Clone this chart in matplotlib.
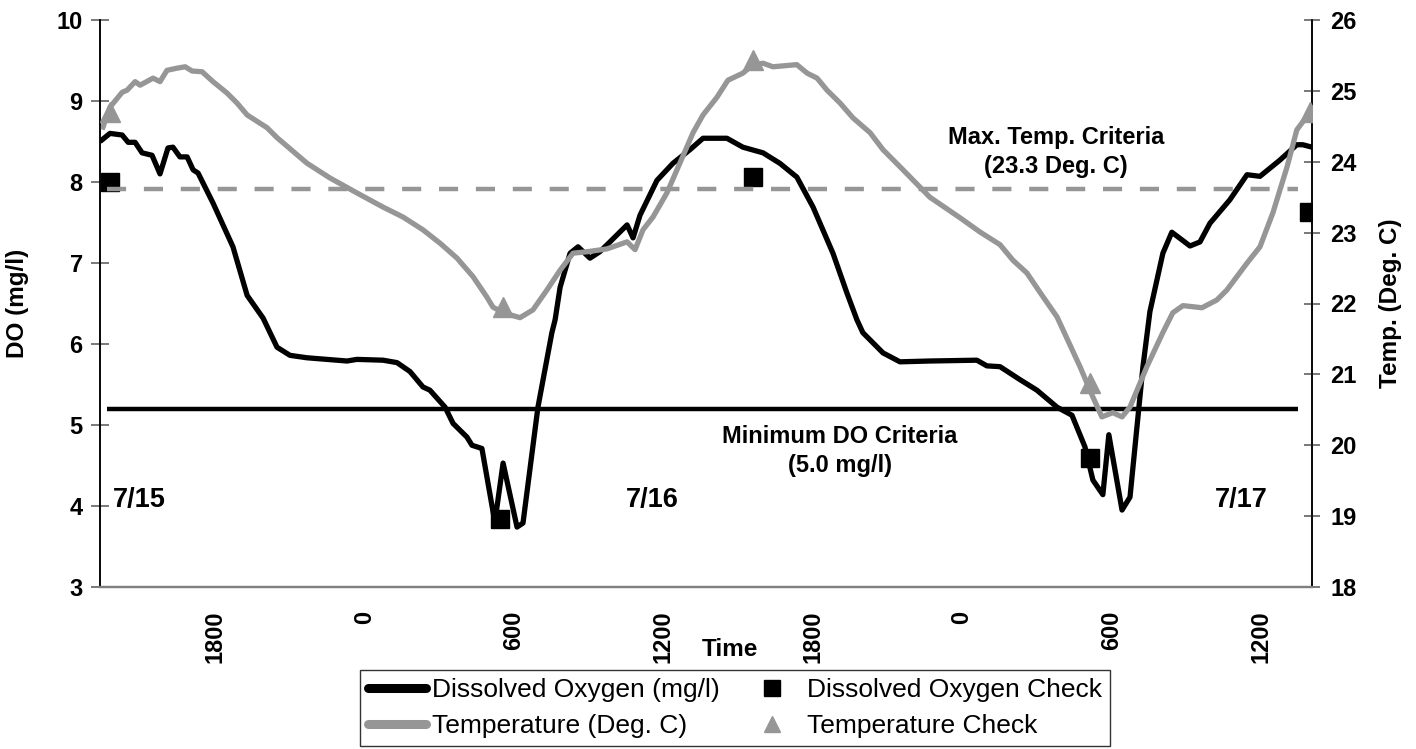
import matplotlib
matplotlib.use('Agg')
import matplotlib.pyplot as plt
from matplotlib.lines import Line2D

plt.rcParams['font.family'] = ['Liberation Sans', 'DejaVu Sans']

# ---- data (hours from 7/15 00:00) ----
do_hours = [13.46, 13.78, 14.27, 14.51, 14.79, 15.07, 15.47, 15.79, 16.11, 16.31,
            16.59, 16.88, 17.12, 17.32, 17.92, 18.72, 19.29, 19.93, 20.21, 20.49,
            21.01, 21.69, 23.30, 23.70, 24.75, 25.31, 25.83, 26.35, 26.63, 27.24,
            27.56, 28.12, 28.32, 28.72, 29.24, 29.57, 30.13, 30.37, 30.97, 31.53,
            31.66, 31.86, 32.26, 32.58, 33.06, 33.46, 33.86, 34.55, 34.79, 35.07,
            35.75, 36.39, 37.08, 37.60, 38.56, 39.20, 40.01, 40.69, 41.37, 42.02,
            42.82, 43.38, 43.78, 44.02, 44.83, 45.51, 46.71, 48.60, 49.00, 49.53,
            50.33, 51.01, 51.82, 52.42, 52.94, 53.26, 53.66, 53.90, 54.43, 54.75,
            55.27, 55.55, 56.07, 56.43, 57.16, 57.56, 57.96, 58.76, 59.45, 59.97,
            60.77, 61.45, 61.69, 62.06]
do_vals = [8.52, 8.60, 8.58, 8.49, 8.49, 8.36, 8.33, 8.10, 8.42, 8.43,
           8.31, 8.31, 8.15, 8.11, 7.74, 7.20, 6.60, 6.32, 6.14, 5.96,
           5.86, 5.83, 5.79, 5.81, 5.80, 5.77, 5.66, 5.47, 5.43, 5.22,
           5.02, 4.85, 4.75, 4.71, 3.80, 4.53, 3.74, 3.79, 5.22, 6.14,
           6.30, 6.70, 7.12, 7.20, 7.06, 7.14, 7.26, 7.47, 7.31, 7.59,
           8.02, 8.23, 8.40, 8.54, 8.54, 8.43, 8.36, 8.23, 8.06, 7.69,
           7.12, 6.63, 6.30, 6.14, 5.89, 5.78, 5.79, 5.80, 5.73, 5.72,
           5.56, 5.43, 5.22, 5.12, 4.73, 4.32, 4.14, 4.88, 3.95, 4.11,
           5.72, 6.40, 7.12, 7.38, 7.21, 7.26, 7.49, 7.78, 8.09, 8.07,
           8.27, 8.46, 8.46, 8.43]

temp_hours = [13.50, 13.78, 14.27, 14.47, 14.79, 14.99, 15.51, 15.79, 16.07, 16.47,
              16.80, 17.08, 17.48, 17.92, 18.48, 18.88, 19.29, 20.09, 20.49, 21.69,
              22.62, 23.70, 24.75, 25.55, 26.35, 27.04, 27.72, 28.36, 28.92, 29.16,
              29.57, 30.25, 30.77, 31.33, 31.86, 32.38, 32.94, 33.74, 34.55, 34.87,
              35.19, 35.59, 36.15, 36.67, 37.20, 37.60, 38.16, 38.60, 39.20, 39.61,
              40.01, 40.41, 41.37, 41.78, 42.18, 42.58, 43.10, 43.62, 44.31, 44.83,
              45.51, 46.71, 47.92, 48.72, 49.53, 50.05, 50.61, 51.13, 51.82, 52.74,
              53.26, 53.62, 54.06, 54.43, 54.75, 55.43, 56.07, 56.47, 56.88, 57.64,
              58.24, 58.64, 59.45, 59.97, 60.49, 61.06, 61.45, 61.98]
temp_vals = [24.49, 24.77, 24.98, 25.01, 25.13, 25.08, 25.18, 25.13, 25.29, 25.32,
             25.34, 25.28, 25.27, 25.13, 24.97, 24.83, 24.66, 24.48, 24.34, 23.98,
             23.77, 23.56, 23.36, 23.22, 23.04, 22.85, 22.64, 22.38, 22.09, 21.95,
             21.87, 21.80, 21.91, 22.19, 22.47, 22.71, 22.73, 22.77, 22.87, 22.76,
             23.04, 23.22, 23.56, 23.98, 24.41, 24.66, 24.91, 25.15, 25.25, 25.37,
             25.39, 25.34, 25.37, 25.25, 25.18, 25.01, 24.83, 24.62, 24.41, 24.17,
             23.93, 23.50, 23.21, 23.01, 22.83, 22.61, 22.43, 22.16, 21.81, 21.11,
             20.68, 20.40, 20.46, 20.40, 20.54, 21.11, 21.59, 21.87, 21.97, 21.94,
             22.05, 22.19, 22.57, 22.80, 23.28, 23.93, 24.45, 24.70]

do_check_hours = [13.78, 29.45, 39.61, 53.14, 61.94]
do_check_vals = [8.00, 3.84, 8.06, 4.59, 7.63]
temp_check_hours = [13.78, 29.57, 39.61, 53.14, 61.98]
temp_check_vals = [24.70, 21.95, 25.44, 20.88, 24.70]

min_do_level = 5.2       # drawn level of the DO criteria line
max_temp_level = 23.62   # drawn level of the temperature criteria line
crit_span = [13.66, 61.49]

xtick_hours = [18, 24, 30, 36, 42, 48, 54, 60]
xtick_labels = ['1800', '0', '600', '1200', '1800', '0', '600', '1200']
date_labels = ['7/15', '7/16', '7/17']
date_hours = [13.9, 35.55, 59.24]

GRAY = '#969696'
W, H = 1416, 749

fig = plt.figure(figsize=(W / 100, H / 100), dpi=100)
ax = fig.add_axes([100 / W, 1 - 587 / H, 1212 / W, 567 / H])
ax2 = ax.twinx()

ax.plot(crit_span, [min_do_level] * 2, color='black', lw=3.2, solid_capstyle='butt')
ax2.plot(crit_span, [max_temp_level] * 2, color=GRAY, lw=3.2, dashes=(4.3, 4))
ax.plot(do_hours, do_vals, color='black', lw=3.8, solid_joinstyle='round')
ax.plot(do_check_hours, do_check_vals, 's', color='black', ms=13, zorder=5)
ax2.plot(temp_hours, temp_vals, color=GRAY, lw=3.8, solid_joinstyle='round')
ax2.plot(temp_check_hours, temp_check_vals, '^', color=GRAY, ms=15, zorder=5)

ax.set_xlim(13.38, 62.06)
ax.set_ylim(3, 10)
ax2.set_ylim(18, 26)
ax.set_yticks(range(3, 11))
ax2.set_yticks(range(18, 27))
ax.set_xticks(xtick_hours)
ax.set_xticklabels(xtick_labels, rotation=90, fontsize=17, fontweight='bold', va='top')
ax.tick_params(axis='x', length=0, pad=17)
ax.tick_params(axis='y', direction='inout', length=13, width=1.1, color='#555555',
               labelsize=17, pad=6)
ax2.tick_params(axis='y', direction='inout', length=12, width=1.1, color='#555555',
                labelsize=17, pad=7)
for lab in ax.get_yticklabels() + ax2.get_yticklabels():
    lab.set_fontweight('bold')

for a in (ax, ax2):
    a.spines['top'].set_visible(False)
    a.spines['bottom'].set_color('#808080')
    a.spines['bottom'].set_linewidth(1.6)
    a.spines['left'].set_linewidth(1.1)
    a.spines['right'].set_linewidth(1.1)

for lab, h in zip(date_labels, date_hours):
    ax.text(h, 4.07, lab, fontsize=19.5, fontweight='bold',
            ha='left' if lab == '7/15' else 'center', va='center')

ax.text(43.1, 4.68, 'Minimum DO Criteria\n(5.0 mg/l)', fontsize=17, fontweight='bold',
        ha='center', va='center', linespacing=1.35)
ax.text(51.78, 8.37, 'Max. Temp. Criteria\n(23.3 Deg. C)', fontsize=17, fontweight='bold',
        ha='center', va='center', linespacing=1.35)

fig.text(18 / W, 1 - 303 / H, 'DO (mg/l)', rotation=90, fontsize=17.5, fontweight='bold',
         ha='center', va='center')
fig.text(1390 / W, 1 - 303 / H, 'Temp. (Deg. C)', rotation=90, fontsize=17.5,
         fontweight='bold', ha='center', va='center')
fig.text(730 / W, 1 - 650 / H, 'Time', fontsize=17.5, fontweight='bold',
         ha='center', va='center')

handles = [Line2D([], [], color='black', lw=6.5, solid_capstyle='round'),
           Line2D([], [], color=GRAY, lw=6.5, solid_capstyle='round'),
           Line2D([], [], color='black', marker='s', ls='none', ms=11),
           Line2D([], [], color=GRAY, marker='^', ls='none', ms=12)]
labels = ['Dissolved Oxygen (mg/l)', 'Temperature (Deg. C)',
          'Dissolved Oxygen Check', 'Temperature Check']
leg = fig.legend(handles, labels, ncol=2, loc='center',
                 bbox_to_anchor=(735 / W, 1 - 708 / H), fontsize=19,
                 frameon=True, fancybox=False, edgecolor='black',
                 handlelength=2.2, handletextpad=0.2, columnspacing=0.9,
                 borderpad=0.3, labelspacing=0.45)
leg.get_frame().set_linewidth(1.0)

fig.savefig('out.png', dpi=100)
